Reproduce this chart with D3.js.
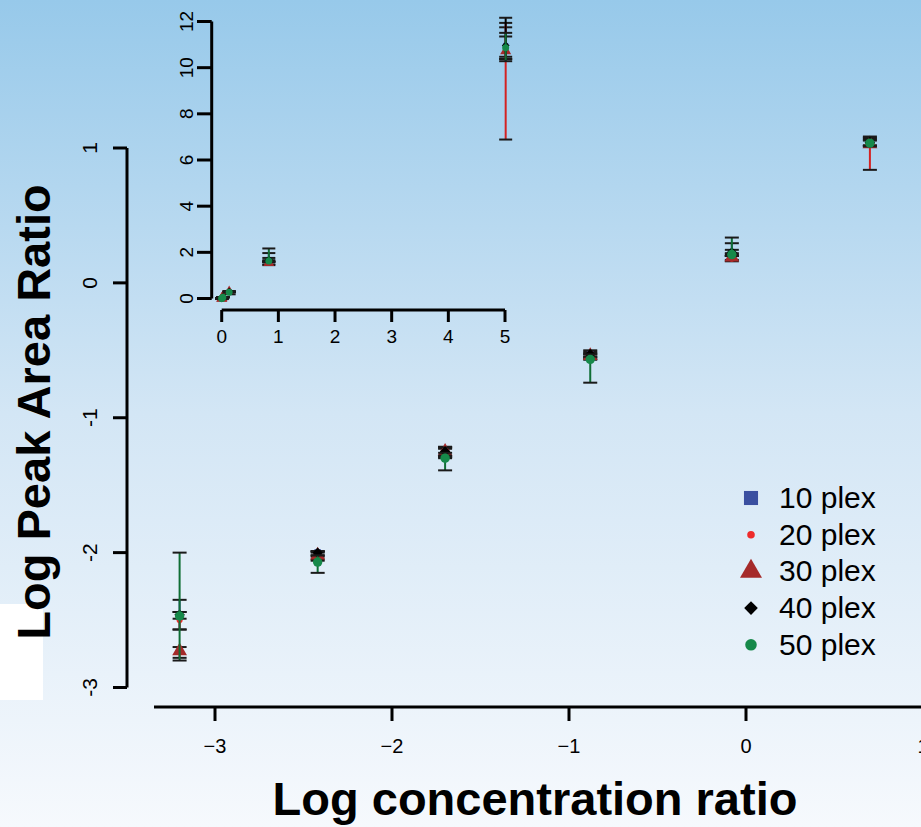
<!DOCTYPE html>
<html>
<head>
<meta charset="utf-8">
<script src="https://cdn.jsdelivr.net/npm/d3@7"></script>
<style>
  body { margin: 0; padding: 0; }
  svg { display: block; font-family: "Liberation Sans", Arial, sans-serif; }
</style>
</head>
<body>
<svg id="chart"></svg>
<script>
// log concentration ratio (x) for the six dilution points
var concLog = [-3.2, -2.42, -1.7, -0.88, -0.08, 0.7];

var seriesNames = ["10 plex", "20 plex", "30 plex", "40 plex", "50 plex"];

// log peak area ratio: mean, lower and upper end of the error bar
var mean10 = [-2.46, -2.00, -1.25, -0.53, 0.225, 1.04];
var lo10   = [-2.57, -2.03, -1.29, -0.55, 0.20, 1.02];
var hi10   = [-2.35, -1.99, -1.22, -0.51, 0.294, 1.07];

var mean20 = [-2.50, -2.03, -1.27, -0.555, 0.18, 1.03];
var lo20   = [-2.57, -2.06, -1.30, -0.57, 0.16, 0.838];
var hi20   = [-2.44, -2.00, -1.23, -0.53, 0.21, 1.077];

var mean30 = [-2.73, -2.02, -1.25, -0.54, 0.19, 1.03];
var lo30   = [-2.78, -2.05, -1.29, -0.56, 0.17, 1.016];
var hi30   = [-2.70, -1.99, -1.215, -0.52, 0.22, 1.055];

var mean40 = [-2.46, -2.00, -1.25, -0.53, 0.225, 1.04];
var lo40   = [-2.49, -2.02, -1.28, -0.547, 0.20, 1.016];
var hi40   = [-2.44, -1.99, -1.22, -0.50, 0.245, 1.085];

var mean50 = [-2.47, -2.07, -1.30, -0.567, 0.21, 1.036];
var lo50   = [-2.80, -2.15, -1.39, -0.74, 0.20, 1.012];
var hi50   = [-2.00, -2.02, -1.26, -0.53, 0.336, 1.061];

var mainXTicks = [-3, -2, -1, 0, 1];
var mainYTicks = [-3, -2, -1, 0, 1];
var insetXTicks = [0, 1, 2, 3, 4, 5];
var insetYTicks = [0, 2, 4, 6, 8, 10, 12];

var width = 921, height = 827;

var svg = d3.select("#chart")
  .attr("width", width)
  .attr("height", height);

// background gradient
var defs = svg.append("defs");
var grad = defs.append("linearGradient")
  .attr("id", "bg")
  .attr("x1", 0).attr("y1", 0).attr("x2", 0).attr("y2", 1);
grad.append("stop").attr("offset", "0%").attr("stop-color", "#97c9ea");
grad.append("stop").attr("offset", "50%").attr("stop-color", "#d3e6f5");
grad.append("stop").attr("offset", "100%").attr("stop-color", "#f6f9fd");

svg.append("rect")
  .attr("width", width).attr("height", height)
  .attr("fill", "url(#bg)");

svg.append("rect")
  .attr("x", 0).attr("y", 604).attr("width", 43).attr("height", 96)
  .attr("fill", "#ffffff");

var series = [
  { name: seriesNames[0], mean: mean10, lo: lo10, hi: hi10, shape: "square",   fill: "#3a4fa0", bar: "#3a4fa0" },
  { name: seriesNames[1], mean: mean20, lo: lo20, hi: hi20, shape: "dot",      fill: "#ee2b2b", bar: "#d42222" },
  { name: seriesNames[2], mean: mean30, lo: lo30, hi: hi30, shape: "triangle", fill: "#a52a2a", bar: "#a52a2a" },
  { name: seriesNames[3], mean: mean40, lo: lo40, hi: hi40, shape: "diamond",  fill: "#000000", bar: "#000000" },
  { name: seriesNames[4], mean: mean50, lo: lo50, hi: hi50, shape: "circle",   fill: "#16894a", bar: "#0f6e35" }
];

function symbolFor(shape, k) {
  // k scales marker size
  if (shape === "square") return d3.symbol().type(d3.symbolSquare).size(45 * k)();
  if (shape === "dot") return d3.symbol().type(d3.symbolCircle).size(30 * k)();
  if (shape === "triangle") return d3.symbol().type(d3.symbolTriangle).size(95 * k)();
  if (shape === "diamond") return d3.symbol().type(d3.symbolSquare).size(55 * k)();
  return d3.symbol().type(d3.symbolCircle).size(70 * k)();
}

function drawSeries(g, xs, ys, xVals, tf, k, capW) {
  series.forEach(function(s) {
    var pts = xVals.map(function(x, i) {
      return { x: tf(x), m: tf(s.mean[i]), lo: tf(s.lo[i]), hi: tf(s.hi[i]) };
    });
    var sg = g.append("g");
    sg.selectAll("line.bar").data(pts).enter().append("line")
      .attr("x1", function(d) { return xs(d.x); })
      .attr("x2", function(d) { return xs(d.x); })
      .attr("y1", function(d) { return ys(d.lo); })
      .attr("y2", function(d) { return ys(d.hi); })
      .attr("stroke", s.bar).attr("stroke-width", 2);
    ["lo", "hi"].forEach(function(end) {
      sg.selectAll("line.cap" + end).data(pts).enter().append("line")
        .attr("x1", function(d) { return xs(d.x) - capW; })
        .attr("x2", function(d) { return xs(d.x) + capW; })
        .attr("y1", function(d) { return ys(d[end]); })
        .attr("y2", function(d) { return ys(d[end]); })
        .attr("stroke", "#1a1a1a").attr("stroke-width", 2);
    });
    sg.selectAll("path").data(pts).enter().append("path")
      .attr("d", symbolFor(s.shape, k))
      .attr("transform", function(d) {
        var r = s.shape === "diamond" ? " rotate(45)" : "";
        return "translate(" + xs(d.x) + "," + ys(d.m) + ")" + r;
      })
      .attr("fill", s.fill);
  });
}

// ---- main plot ----
var x = d3.scaleLinear().domain([-3, 0]).range([215, 746]);
var y = d3.scaleLinear().domain([-3, 1]).range([687.5, 148]);

var main = svg.append("g");

// x axis
var xAxisG = main.append("g");
xAxisG.append("line")
  .attr("x1", 154).attr("x2", width).attr("y1", 707).attr("y2", 707)
  .attr("stroke", "#000").attr("stroke-width", 3);
xAxisG.selectAll("line.tick").data(mainXTicks).enter().append("line")
  .attr("x1", function(d) { return x(d); }).attr("x2", function(d) { return x(d); })
  .attr("y1", 707).attr("y2", 721)
  .attr("stroke", "#000").attr("stroke-width", 3);
xAxisG.selectAll("text").data(mainXTicks).enter().append("text")
  .attr("x", function(d) { return x(d); }).attr("y", 753)
  .attr("text-anchor", "middle")
  .attr("font-size", 20)
  .text(function(d) { return d < 0 ? "\u2212" + Math.abs(d) : d; });

// y axis
var yAxisG = main.append("g");
yAxisG.append("line")
  .attr("x1", 127).attr("x2", 127)
  .attr("y1", y(-3)).attr("y2", y(1))
  .attr("stroke", "#000").attr("stroke-width", 3);
yAxisG.selectAll("line.tick").data(mainYTicks).enter().append("line")
  .attr("x1", 113).attr("x2", 127)
  .attr("y1", function(d) { return y(d); }).attr("y2", function(d) { return y(d); })
  .attr("stroke", "#000").attr("stroke-width", 3);
yAxisG.selectAll("text").data(mainYTicks).enter().append("text")
  .attr("transform", function(d) { return "translate(97," + y(d) + ") rotate(-90)"; })
  .attr("text-anchor", "middle")
  .attr("font-size", 21)
  .text(function(d) { return d < 0 ? "-" + Math.abs(d) : d; });

drawSeries(main.append("g"), x, y, concLog, function(v) { return v; }, 1, 7);

// axis titles
svg.append("text")
  .attr("x", 535).attr("y", 815)
  .attr("text-anchor", "middle")
  .attr("font-size", 47).attr("font-weight", "bold")
  .text("Log concentration ratio");

svg.append("text")
  .attr("transform", "translate(50,412) rotate(-90)")
  .attr("text-anchor", "middle")
  .attr("font-size", 47).attr("font-weight", "bold")
  .text("Log Peak Area Ratio");

// ---- inset (linear scale) ----
var ix = d3.scaleLinear().domain([0, 5]).range([221.7, 505]);
var iy = d3.scaleLinear().domain([0, 12]).range([298.5, 21.5]);
var inset = svg.append("g");

inset.append("line")
  .attr("x1", ix(0)).attr("x2", ix(5)).attr("y1", 310).attr("y2", 310)
  .attr("stroke", "#000").attr("stroke-width", 3);
inset.selectAll("line.xt").data(insetXTicks).enter().append("line")
  .attr("x1", function(d) { return ix(d); }).attr("x2", function(d) { return ix(d); })
  .attr("y1", 310).attr("y2", 322)
  .attr("stroke", "#000").attr("stroke-width", 3);
inset.selectAll("text.xt").data(insetXTicks).enter().append("text")
  .attr("x", function(d) { return ix(d); }).attr("y", 343)
  .attr("text-anchor", "middle").attr("font-size", 19)
  .text(function(d) { return d; });

inset.append("line")
  .attr("x1", 211.7).attr("x2", 211.7).attr("y1", iy(0)).attr("y2", iy(12))
  .attr("stroke", "#000").attr("stroke-width", 3);
inset.selectAll("line.yt").data(insetYTicks).enter().append("line")
  .attr("x1", 197).attr("x2", 211.7)
  .attr("y1", function(d) { return iy(d); }).attr("y2", function(d) { return iy(d); })
  .attr("stroke", "#000").attr("stroke-width", 3);
inset.selectAll("text.yt").data(insetYTicks).enter().append("text")
  .attr("transform", function(d) { return "translate(193," + iy(d) + ") rotate(-90)"; })
  .attr("text-anchor", "middle").attr("font-size", 19)
  .text(function(d) { return d; });

// inset shows the same measurements back-transformed from log10
drawSeries(inset.append("g"), ix, iy, concLog, function(v) { return Math.pow(10, v); }, 0.55, 6.5);

// ---- legend ----
var legend = svg.append("g").attr("transform", "translate(751,498)");
series.forEach(function(s, i) {
  var row = legend.append("g").attr("transform", "translate(0," + (i * 36.7) + ")");
  var k = s.shape === "square" ? 4.4 : (s.shape === "triangle" ? 2.2 : (s.shape === "diamond" ? 1.7 : 1.5));
  row.append("path")
    .attr("d", symbolFor(s.shape, k))
    .attr("transform", s.shape === "diamond" ? "rotate(45)" : null)
    .attr("fill", s.fill);
  row.append("text")
    .attr("x", 28).attr("y", 10)
    .attr("font-size", 30)
    .text(s.name);
});
</script>
</body>
</html>
